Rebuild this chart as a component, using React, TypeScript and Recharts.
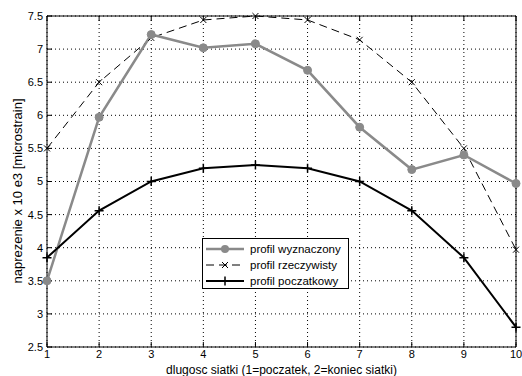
import React from "react";
import {
  LineChart,
  Line,
  XAxis,
  YAxis,
  CartesianGrid,
  Legend,
} from "recharts";

// positions along the grid (1 = start, 10 = end)
const positions = [1, 2, 3, 4, 5, 6, 7, 8, 9, 10];
const wyznaczony = [3.5, 5.97, 7.22, 7.02, 7.08, 6.68, 5.82, 5.18, 5.4, 4.97];
const rzeczywisty = [5.5, 6.5, 7.17, 7.44, 7.5, 7.44, 7.14, 6.5, 5.5, 3.97];
const poczatkowy = [3.85, 4.56, 5.0, 5.2, 5.25, 5.2, 5.0, 4.56, 3.85, 2.8];

const xTicks = [1, 2, 3, 4, 5, 6, 7, 8, 9, 10];
const yTicks = [2.5, 3, 3.5, 4, 4.5, 5, 5.5, 6, 6.5, 7, 7.5];

const seriesNames = ["profil wyznaczony", "profil rzeczywisty", "profil poczatkowy"];
const xTitle = "dlugosc siatki (1=poczatek, 2=koniec siatki)";
const yTitle = "naprezenie x 10 e3 [microstrain]";

const data = positions.map((x, i) => ({
  x,
  wyznaczony: wyznaczony[i],
  rzeczywisty: rzeczywisty[i],
  poczatkowy: poczatkowy[i],
}));

const GRAY = "#8a8a8a";
const FONT = "'Liberation Sans', Arial, sans-serif";

function CrossDot(props: any) {
  const { cx, cy } = props;
  if (cx == null || cy == null) return <g />;
  const s = 3;
  return (
    <path
      d={`M${cx - s},${cy - s}L${cx + s},${cy + s}M${cx - s},${cy + s}L${cx + s},${cy - s}`}
      stroke="#000"
      strokeWidth={1}
      fill="none"
    />
  );
}

function PlusDot(props: any) {
  const { cx, cy } = props;
  if (cx == null || cy == null) return <g />;
  const s = 4.5;
  return (
    <path
      d={`M${cx - s},${cy}L${cx + s},${cy}M${cx},${cy - s}L${cx},${cy + s}`}
      stroke="#000"
      strokeWidth={1.5}
      fill="none"
    />
  );
}

function YTitle() {
  return (
    <text
      x={22}
      y={191}
      transform="rotate(-90 22 191)"
      textAnchor="middle"
      fontSize={13}
      fill="#000"
      fontFamily={FONT}
    >
      {yTitle}
    </text>
  );
}

function LegendBox() {
  const rows = [
    { name: seriesNames[0], kind: "circle" },
    { name: seriesNames[1], kind: "cross" },
    { name: seriesNames[2], kind: "plus" },
  ];
  return (
    <div
      style={{
        width: 145,
        height: 49,
        border: "1px solid #000",
        background: "#fff",
      }}
    >
      <svg width={145} height={49} style={{ display: "block" }}>
        {rows.map((r, i) => {
          const y = 10 + i * 16;
          return (
            <g key={r.name}>
              {r.kind === "circle" && (
                <g>
                  <line x1={3} x2={41} y1={y} y2={y} stroke={GRAY} strokeWidth={2.5} />
                  <circle cx={22} cy={y} r={4} fill={GRAY} />
                </g>
              )}
              {r.kind === "cross" && (
                <g>
                  <line x1={3} x2={41} y1={y} y2={y} stroke="#000" strokeWidth={1} strokeDasharray="8 5" />
                  <CrossDot cx={22} cy={y} />
                </g>
              )}
              {r.kind === "plus" && (
                <g>
                  <line x1={3} x2={41} y1={y} y2={y} stroke="#000" strokeWidth={2} />
                  <PlusDot cx={22} cy={y} />
                </g>
              )}
              <text x={47} y={y + 4} fontSize={11.5} fill="#000" fontFamily={FONT}>
                {r.name}
              </text>
            </g>
          );
        })}
      </svg>
    </div>
  );
}

export default function App() {
  return (
    <div style={{ position: "absolute", left: 0, top: 0, width: 522, height: 376, background: "#fff" }}>
      <LineChart
        width={522}
        height={376}
        data={data}
        margin={{ top: 15, right: 5, bottom: 0, left: 0 }}
        style={{ fontFamily: FONT }}
      >
        <CartesianGrid stroke="#000" strokeDasharray="1 3" strokeWidth={1} />
        <XAxis
          dataKey="x"
          type="number"
          domain={[1, 10]}
          ticks={xTicks}
          height={29}
          tickSize={-5}
          tickMargin={8}
          axisLine={{ stroke: "#000" }}
          tickLine={{ stroke: "#000" }}
          tick={{ fill: "#000", fontSize: 11 }}
          interval={0}
          label={{
            value: xTitle,
            position: "insideBottom",
            offset: 2,
            fill: "#000",
            fontSize: 12,
          }}
        />
        <XAxis
          xAxisId="top"
          orientation="top"
          dataKey="x"
          type="number"
          domain={[1, 10]}
          ticks={xTicks}
          height={1}
          tickSize={-5}
          axisLine={{ stroke: "#000" }}
          tickLine={{ stroke: "#000" }}
          tick={() => <g />}
          interval={0}
        />
        <YAxis
          type="number"
          domain={[2.5, 7.5]}
          ticks={yTicks}
          width={47}
          tickSize={-5}
          tickMargin={9}
          axisLine={{ stroke: "#000" }}
          tickLine={{ stroke: "#000" }}
          tick={{ fill: "#000", fontSize: 11 }}
          interval={0}
          label={{ content: () => <YTitle /> }}
        />
        <YAxis
          yAxisId="right"
          orientation="right"
          type="number"
          domain={[2.5, 7.5]}
          ticks={yTicks}
          width={1}
          tickSize={-5}
          axisLine={{ stroke: "#000" }}
          tickLine={{ stroke: "#000" }}
          tick={() => <g />}
          interval={0}
        />
        <Line
          dataKey="rzeczywisty"
          name={seriesNames[1]}
          stroke="#000"
          strokeWidth={1}
          strokeDasharray="8 5"
          dot={<CrossDot />}
          activeDot={false}
          isAnimationActive={false}
        />
        <Line
          dataKey="wyznaczony"
          name={seriesNames[0]}
          stroke={GRAY}
          strokeWidth={2.5}
          dot={{ r: 4, fill: GRAY, stroke: GRAY, strokeWidth: 1 }}
          activeDot={false}
          isAnimationActive={false}
        />
        <Line
          dataKey="poczatkowy"
          name={seriesNames[2]}
          stroke="#000"
          strokeWidth={2}
          dot={<PlusDot />}
          activeDot={false}
          isAnimationActive={false}
        />
        <Legend
          layout="vertical"
          align="center"
          verticalAlign="middle"
          content={() => <LegendBox />}
          wrapperStyle={{ left: 202, top: 238, width: 147, height: 51 }}
        />
      </LineChart>
    </div>
  );
}
